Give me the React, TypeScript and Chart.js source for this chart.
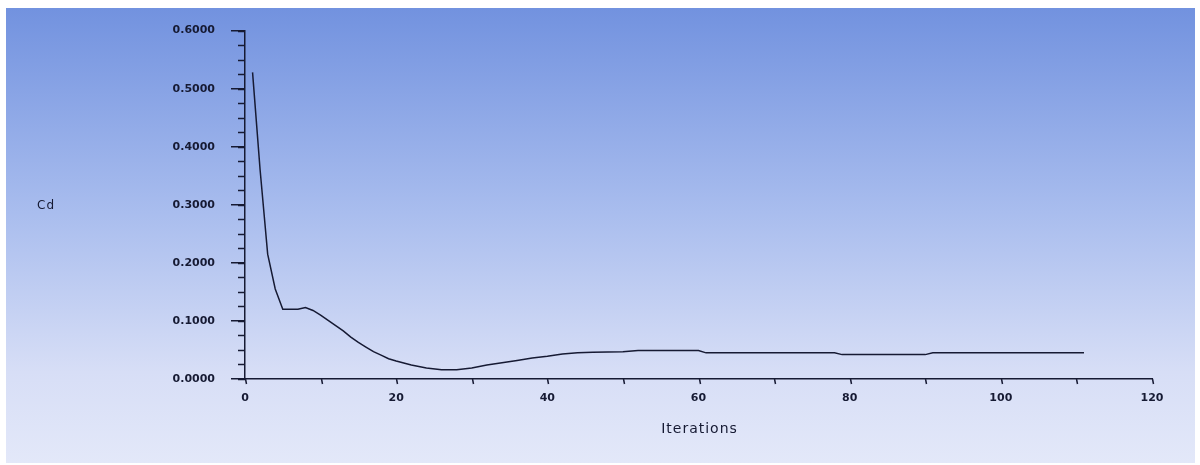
import React, { useEffect, useRef } from "react";
import { Chart, registerables } from "chart.js";

Chart.register(...registerables);

const iterations = [1, 2, 3, 4, 5, 6, 7, 8, 9, 10, 11, 12, 13, 14, 15, 16, 17, 18, 19, 20, 22, 24, 26, 28, 30, 32, 34, 36, 38, 40, 42, 44, 46, 50, 52, 56, 60, 61, 70, 78, 79, 90, 91, 100, 111];
const cdValues = [0.528, 0.36, 0.215, 0.155, 0.12, 0.12, 0.12, 0.123, 0.118, 0.11, 0.101, 0.092, 0.083, 0.072, 0.063, 0.055, 0.047, 0.041, 0.035, 0.031, 0.024, 0.019, 0.016, 0.016, 0.019, 0.024, 0.028, 0.032, 0.036, 0.039, 0.043, 0.045, 0.046, 0.047, 0.049, 0.049, 0.049, 0.045, 0.045, 0.045, 0.042, 0.042, 0.045, 0.045, 0.045];

const xTitle = "Iterations";
const yTitle = "Cd";
const X_MIN = 0, X_MAX = 120, X_LABEL_STEP = 20, X_TICK_STEP = 10;
const Y_MIN = 0, Y_MAX = 0.6, Y_LABEL_STEP = 0.1, Y_MINOR_STEP = 0.025;

const INK = "#161a33";
const FONT = "'DejaVu Sans', sans-serif";

const decor = {
  id: "decor",
  afterDraw(chart: any) {
    const { ctx, chartArea, scales } = chart;
    const x = scales.x, y = scales.y;
    ctx.save();
    ctx.strokeStyle = INK;
    ctx.lineWidth = 1.5;
    const nMinor = Math.round((Y_MAX - Y_MIN) / Y_MINOR_STEP);
    for (let i = 0; i <= nMinor; i++) {
      const v = Y_MIN + i * Y_MINOR_STEP;
      const py = Math.round(y.getPixelForValue(v)) + 0.5;
      ctx.beginPath();
      ctx.moveTo(chartArea.left - 7, py);
      ctx.lineTo(chartArea.left, py);
      ctx.stroke();
    }
    const nX = Math.round((X_MAX - X_MIN) / X_TICK_STEP);
    for (let i = 0; i <= nX; i++) {
      const v = X_MIN + i * X_TICK_STEP;
      const px = Math.round(x.getPixelForValue(v)) + 0.5;
      ctx.beginPath();
      ctx.moveTo(px, chartArea.bottom);
      ctx.lineTo(px + 1, chartArea.bottom + 5);
      ctx.stroke();
    }
    ctx.fillStyle = INK;
    ctx.font = `12px ${FONT}`;
    (ctx as any).letterSpacing = "1px";
    ctx.textAlign = "left";
    ctx.textBaseline = "middle";
    ctx.fillText(yTitle, 31, y.getPixelForValue(0.3) + 1);
    ctx.textAlign = "center";
    ctx.font = `14px ${FONT}`;
    ctx.fillText(xTitle, (chartArea.left + chartArea.right) / 2 + 1, chartArea.bottom + 50);
    ctx.restore();
  },
};

export default function App() {
  const ref = useRef<HTMLCanvasElement>(null);
  useEffect(() => {
    document.body.style.margin = "0";
    const chart = new Chart(ref.current!, {
      type: "line",
      data: {
        datasets: [
          {
            data: iterations.map((it, i) => ({ x: it, y: cdValues[i] })),
            borderColor: INK,
            borderWidth: 1.5,
            pointRadius: 0,
            tension: 0,
            fill: false,
          },
        ],
      },
      options: {
        animation: false,
        responsive: false,
        maintainAspectRatio: false,
        layout: { padding: { top: 19, right: 43, left: 0, bottom: 0 } },
        plugins: { legend: { display: false }, tooltip: { enabled: false }, title: { display: false } },
        scales: {
          x: {
            type: "linear",
            min: X_MIN,
            max: X_MAX,
            grid: { display: false, drawTicks: false },
            border: { display: true, color: INK, width: 1.5 },
            ticks: {
              stepSize: X_LABEL_STEP,
              color: INK,
              padding: 13,
              font: { family: FONT, size: 11, weight: "bold" },
              callback: (v: any) => String(v),
            },
            afterFit: (s: any) => { s.height = 84; },
          },
          y: {
            type: "linear",
            min: Y_MIN,
            max: Y_MAX,
            grid: { display: true, drawOnChartArea: false, tickLength: 14, color: INK, lineWidth: 1.5 },
            border: { display: true, color: INK, width: 1.5 },
            ticks: {
              stepSize: Y_LABEL_STEP,
              color: INK,
              padding: 16,
              font: { family: FONT, size: 11, weight: "bold" },
              callback: (v: any) => Number(v).toFixed(4),
            },
            afterFit: (s: any) => { s.width = 239; },
          },
        },
      },
      plugins: [decor],
    });
    return () => chart.destroy();
  }, []);
  return (
    <div
      style={{
        position: "absolute",
        left: 6,
        top: 8,
        width: 1189,
        height: 455,
        background: "linear-gradient(to bottom, #7292df 0%, #a9bdee 45%, #d7def6 80%, #e3e8f9 100%)",
      }}
    >
      <canvas ref={ref} width={1189} height={455} style={{ display: "block" }} />
    </div>
  );
}
